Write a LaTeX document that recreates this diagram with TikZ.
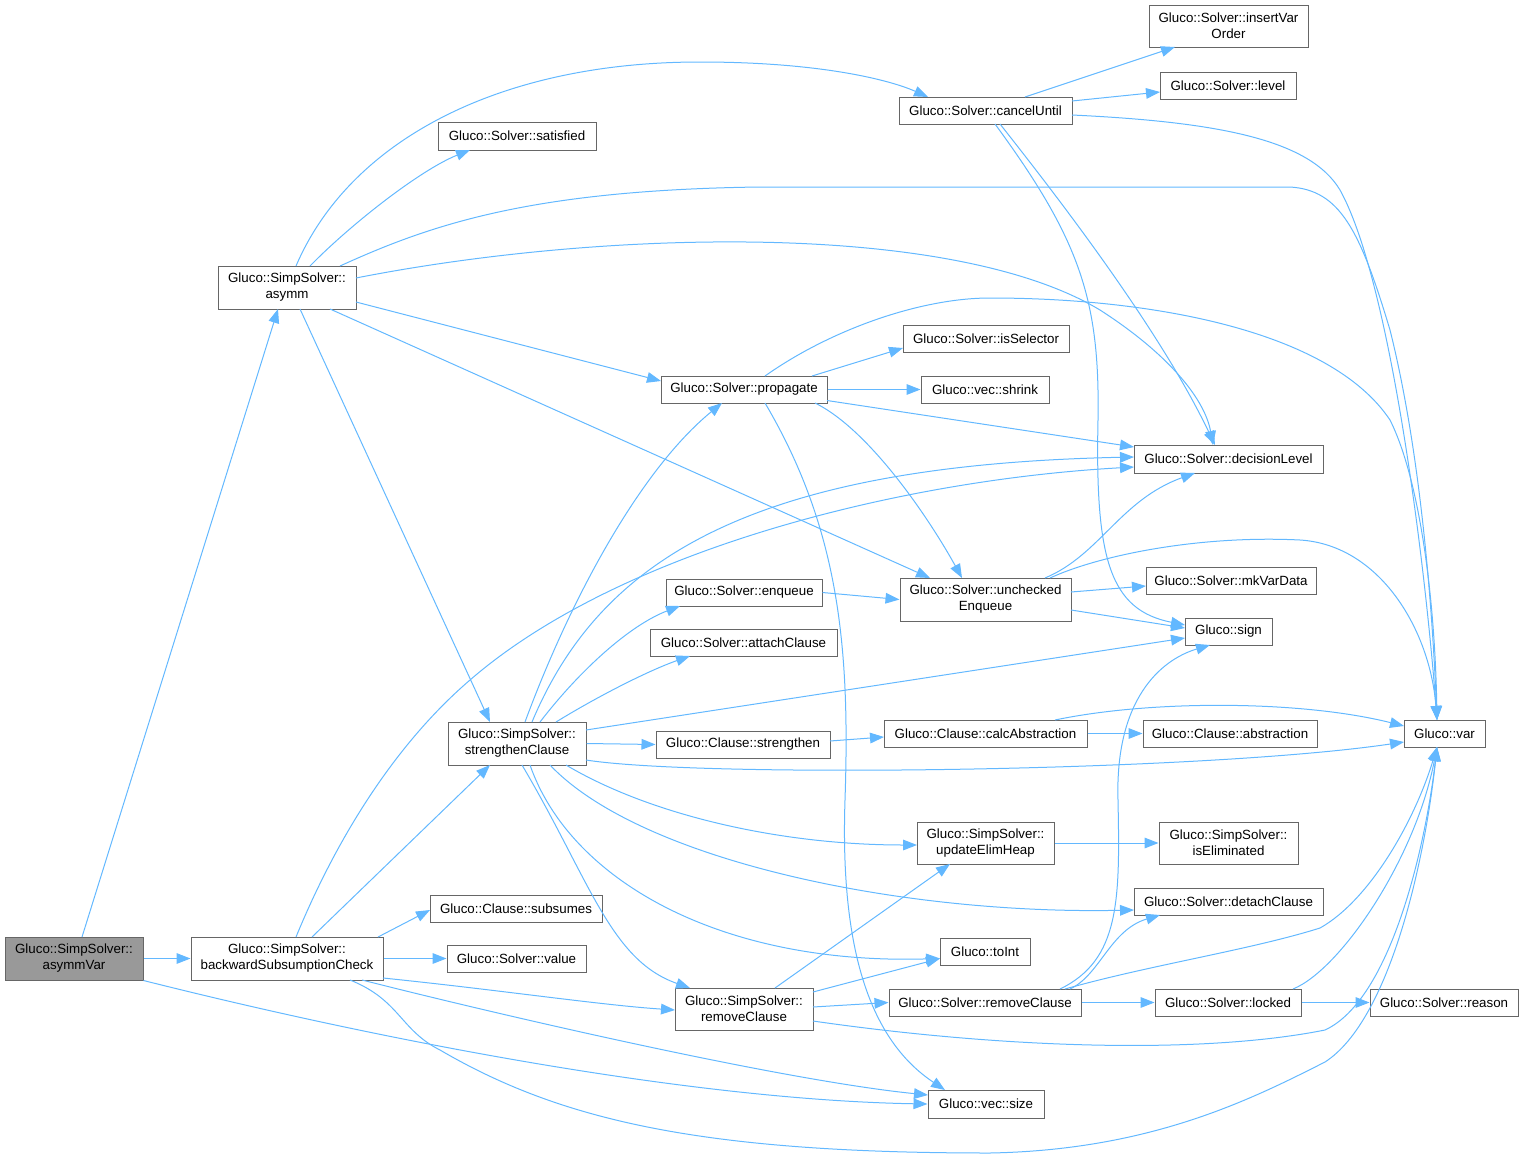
\documentclass[tikz,border=0pt]{standalone}
\usepackage{fontspec}
\setmainfont{Liberation Sans}
\usetikzlibrary{arrows.meta,calc}
\definecolor{edgec}{HTML}{63B8FF}
\definecolor{bordc}{HTML}{666666}
\definecolor{rootc}{HTML}{999999}
\begin{document}
\begin{tikzpicture}[x=0.75pt,y=-0.75pt,font=\fontsize{10}{12}\selectfont,
  bx/.style 2 args={draw=bordc,line width=0.75pt,fill=white,inner sep=0pt,align=center,
    minimum width={#1*0.75pt},minimum height={#2*0.75pt}},
  rootbx/.style={fill=rootc},
  arr/.style={draw=edgec,line width=0.75pt,-{Triangle[length=10.5pt,width=8pt]}}]
\useasboundingbox (0,0) rectangle (1524,1160);
% nodes
\node[bx={138}{43},rootbx] (avar) at (74,958.5) {Gluco::SimpSolver::\\asymmVar};
\node[bx={192}{43}] (bsc) at (287,958.5) {Gluco::SimpSolver::\\backwardSubsumptionCheck};
\node[bx={138}{43}] (asymm) at (287,287.5) {Gluco::SimpSolver::\\asymm};
\node[bx={138}{43}] (sc) at (517,743.5) {Gluco::SimpSolver::\\strengthenClause};
\node[bx={173}{27}] (cu) at (985.5,110.5) {Gluco::Solver::cancelUntil};
\node[bx={158}{28}] (sat) at (517,136) {Gluco::Solver::satisfied};
\node[bx={159}{42}] (ivo) at (1228.5,26) {Gluco::Solver::insertVar\\Order};
\node[bx={136}{27}] (lvl) at (1228,85.5) {Gluco::Solver::level};
\node[bx={166}{27}] (isel) at (986,338.5) {Gluco::Solver::isSelector};
\node[bx={166}{27}] (prop) at (744,389.5) {Gluco::Solver::propagate};
\node[bx={128}{27}] (shr) at (985,389.5) {Gluco::vec::shrink};
\node[bx={189}{28}] (dl) at (1228.5,459) {Gluco::Solver::decisionLevel};
\node[bx={156}{27}] (enq) at (744,592.5) {Gluco::Solver::enqueue};
\node[bx={171}{43}] (ue) at (985.5,599.5) {Gluco::Solver::unchecked\\Enqueue};
\node[bx={170}{27}] (mkv) at (1231,580.5) {Gluco::Solver::mkVarData};
\node[bx={187}{27}] (att) at (743.5,642.5) {Gluco::Solver::attachClause};
\node[bx={87}{27}] (sign) at (1228.5,631.5) {Gluco::sign};
\node[bx={174}{27}] (str) at (743,744.5) {Gluco::Clause::strengthen};
\node[bx={203}{27}] (calc) at (985.5,733.5) {Gluco::Clause::calcAbstraction};
\node[bx={174}{27}] (abs) at (1230,733.5) {Gluco::Clause::abstraction};
\node[bx={81}{27}] (var) at (1444.5,733.5) {Gluco::var};
\node[bx={137}{42}] (ueh) at (985.5,843) {Gluco::SimpSolver::\\updateElimHeap};
\node[bx={139}{42}] (iel) at (1228.5,843) {Gluco::SimpSolver::\\isEliminated};
\node[bx={189}{27}] (det) at (1228.5,901.5) {Gluco::Solver::detachClause};
\node[bx={172}{27}] (sub) at (516,908.5) {Gluco::Clause::subsumes};
\node[bx={90}{27}] (toi) at (985,951.5) {Gluco::toInt};
\node[bx={139}{27}] (val) at (516.5,958.5) {Gluco::Solver::value};
\node[bx={138}{42}] (rcs) at (744,1009) {Gluco::SimpSolver::\\removeClause};
\node[bx={192}{27}] (rc) at (985,1002.5) {Gluco::Solver::removeClause};
\node[bx={146}{27}] (lck) at (1228,1002.5) {Gluco::Solver::locked};
\node[bx={148}{27}] (rsn) at (1444,1002.5) {Gluco::Solver::reason};
\node[bx={116}{28}] (size) at (986,1104) {Gluco::vec::size};
% edges
\draw[arr] ($(avar)+(8,-21.5)$) -- ($(asymm)+(-9,21.5)$);
\draw[arr] (avar.east) -- (bsc.west);
\draw[arr] (avar.south east) .. controls (400,1045) and (700,1100) .. (size.west);
\draw[arr] ($(bsc)+(25,-21.5)$) -- ($(sc)+(-27,21.5)$);
\draw[arr] ($(bsc)+(9,-21.5)$) .. controls (340,830) and (400,740) .. (470,680) .. controls (620,550) and (900,480) .. ($(dl)+(-94.5,8)$);
\draw[arr] ($(bsc)+(91,-21.5)$) -- ($(sub)+(-86,1.5)$);
\draw[arr] (bsc.east) -- (val.west);
\draw[arr] ($(bsc)+(96,19.5)$) .. controls (500,990) and (600,1005) .. ($(rcs)+(-69,1)$);
\draw[arr] ($(bsc)+(75,21.5)$) .. controls (500,1015) and (780,1080) .. ($(size)+(-58,-9)$);
\draw[arr] ($(bsc)+(63,21.5)$) .. controls (400,1000) and (400,1030) .. (440,1050) .. controls (560,1120) and (700,1153) .. (990,1153) .. controls (1150,1150) and (1250,1100) .. (1325,1062) .. controls (1390,1020) and (1425,860) .. ($(var)+(-7.5,13.5)$);
\draw[arr] ($(asymm)+(9,-21.5)$) .. controls (350,140) and (500,62) .. (700,62) .. controls (820,62) and (890,80) .. ($(cu)+(-57.5,-13.5)$);
\draw[arr] ($(asymm)+(23,-21.5)$) .. controls (350,225) and (420,170) .. ($(sat)+(-47,14)$);
\draw[arr] ($(asymm)+(53,-21.5)$) .. controls (430,225) and (530,190) .. (760,187) -- (1290,187) .. controls (1340,190) and (1360,230) .. (1390,330) .. controls (1420,450) and (1432,600) .. ($(var)+(-7.5,-13.5)$);
\draw[arr] ($(asymm)+(69,-9.5)$) .. controls (600,230) and (950,220) .. (1100,310) .. controls (1170,355) and (1205,400) .. ($(dl)+(-15.5,-14)$);
\draw[arr] ($(asymm)+(69,14.5)$) -- ($(prop)+(-83,-8.5)$);
\draw[arr] ($(asymm)+(43,21.5)$) -- ($(ue)+(-55.5,-21.5)$);
\draw[arr] ($(asymm)+(13,21.5)$) -- ($(sc)+(-27,-21.5)$);
\draw[arr] ($(cu)+(39.5,-13.5)$) -- ($(ivo)+(-53.5,21)$);
\draw[arr] ($(cu)+(86.5,-9.5)$) -- ($(lvl)+(-68,6.5)$);
\draw[arr] ($(cu)+(86.5,4.5)$) .. controls (1220,122) and (1310,140) .. (1340,190) .. controls (1390,280) and (1425,560) .. ($(var)+(-7.5,-13.5)$);
\draw[arr] ($(cu)+(14.5,13.5)$) .. controls (1060,200) and (1160,330) .. ($(dl)+(-13.5,-14)$);
\draw[arr] ($(cu)+(9.5,13.5)$) .. controls (1080,240) and (1100,300) .. (1098,420) .. controls (1095,560) and (1110,610) .. ($(sign)+(-43.5,-6.5)$);
\draw[arr] ($(prop)+(68,-13.5)$) -- ($(isel)+(-83,9.5)$);
\draw[arr] (prop.east) -- (shr.west);
\draw[arr] ($(prop)+(83,11)$) -- ($(dl)+(-94.5,-12)$);
\draw[arr] ($(prop)+(71,13.5)$) .. controls (870,430) and (930,520) .. ($(ue)+(-23.5,-21.5)$);
\draw[arr] ($(prop)+(21,-13.5)$) .. controls (830,330) and (920,298) .. (990,298) .. controls (1150,298) and (1330,330) .. (1390,420) .. controls (1420,480) and (1435,600) .. ($(var)+(-7.5,-13.5)$);
\draw[arr] ($(prop)+(21,13.5)$) .. controls (840,530) and (850,650) .. (845,800) .. controls (840,950) and (870,1040) .. ($(size)+(-41,-14)$);
\draw[arr] ($(sc)+(8,-21.5)$) .. controls (570,600) and (640,470) .. ($(prop)+(-22,13.5)$);
\draw[arr] ($(sc)+(15,-21.5)$) .. controls (600,560) and (750,465) .. ($(dl)+(-94.5,-2)$);
\draw[arr] ($(sc)+(23,-21.5)$) .. controls (580,670) and (630,625) .. ($(enq)+(-64,13.5)$);
\draw[arr] ($(sc)+(39,-21.5)$) .. controls (600,695) and (650,670) .. ($(att)+(-53.5,13.5)$);
\draw[arr] ($(sc)+(69,-13.5)$) -- ($(sign)+(-43.5,6.5)$);
\draw[arr] (sc.east) -- (str.west);
\draw[arr] ($(sc)+(69,16.5)$) .. controls (700,778) and (1200,772) .. ($(var)+(-40.5,8.5)$);
\draw[arr] ($(sc)+(49,21.5)$) .. controls (650,815) and (780,845) .. ($(ueh)+(-68.5,2)$);
\draw[arr] ($(sc)+(33,21.5)$) .. controls (640,860) and (900,915) .. ($(det)+(-94.5,8.5)$);
\draw[arr] ($(sc)+(13,21.5)$) .. controls (570,880) and (720,965) .. ($(toi)+(-45,7)$);
\draw[arr] ($(sc)+(5,21.5)$) .. controls (590,880) and (610,960) .. ($(rcs)+(-54,-21)$);
\draw[arr] (enq.east) -- (ue.west);
\draw[arr] ($(ue)+(59.5,-21.5)$) .. controls (1100,555) and (1120,500) .. ($(dl)+(-33.5,14)$);
\draw[arr] ($(ue)+(64.5,-21.5)$) .. controls (1100,555) and (1200,535) .. (1300,540) .. controls (1380,545) and (1430,630) .. ($(var)+(-7.5,-13.5)$);
\draw[arr] ($(ue)+(85.5,-7.5)$) -- ($(mkv)+(-85,5.5)$);
\draw[arr] ($(ue)+(85.5,10.5)$) -- ($(sign)+(-43.5,-3.5)$);
\draw[arr] ($(str)+(87,-3.5)$) -- ($(calc)+(-101.5,3.5)$);
\draw[arr] (calc.east) -- (abs.west);
\draw[arr] ($(calc)+(69.5,-13.5)$) .. controls (1150,700) and (1300,700) .. ($(var)+(-40.5,-7.5)$);
\draw[arr] (ueh.east) -- (iel.west);
\draw[arr] ($(rcs)+(31,-21)$) -- ($(ueh)+(-35.5,21)$);
\draw[arr] ($(rcs)+(69,-17)$) -- ($(toi)+(-45,7)$);
\draw[arr] ($(rcs)+(69,-2)$) -- (rc.west);
\draw[arr] ($(rcs)+(69,12)$) .. controls (1000,1048) and (1200,1055) .. (1325,1030) .. controls (1390,1000) and (1425,850) .. ($(var)+(-7.5,13.5)$);
\draw[arr] ($(rc)+(75,-13.5)$) .. controls (1120,960) and (1120,900) .. (1118,800) .. controls (1115,700) and (1160,660) .. ($(sign)+(-18.5,13.5)$);
\draw[arr] ($(rc)+(85,-13.5)$) .. controls (1100,975) and (1110,930) .. ($(det)+(-68.5,13.5)$);
\draw[arr] ($(rc)+(80,-13.5)$) .. controls (1150,965) and (1250,950) .. (1320,928) .. controls (1370,900) and (1415,820) .. ($(var)+(-7.5,13.5)$);
\draw[arr] (rc.east) -- (lck.west);
\draw[arr] (lck.east) -- (rsn.west);
\draw[arr] ($(lck)+(65,-13.5)$) .. controls (1340,970) and (1415,860) .. ($(var)+(-7.5,13.5)$);
\end{tikzpicture}
\end{document}
